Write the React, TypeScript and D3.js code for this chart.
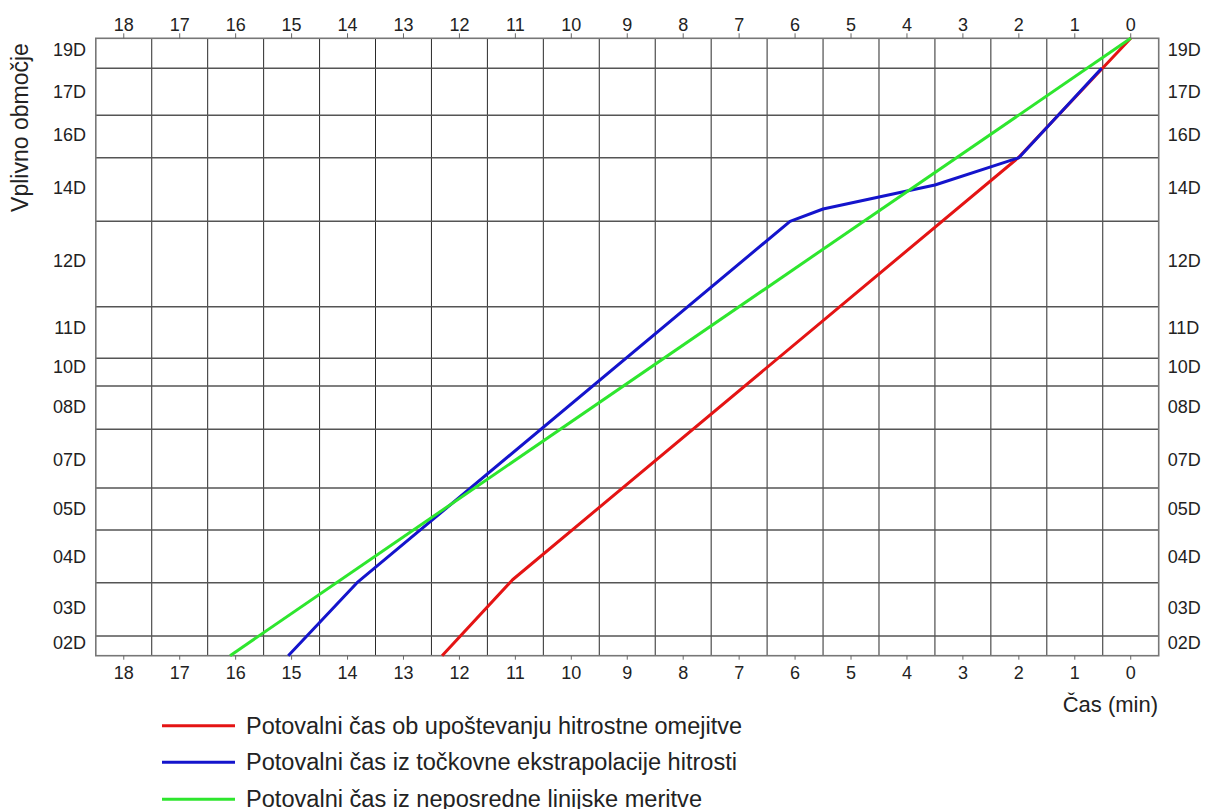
import React from "react";
import * as d3 from "d3";

// Time axis tick labels (minutes)
const timeTicks = [0, 1, 2, 3, 4, 5, 6, 7, 8, 9, 10, 11, 12, 13, 14, 15, 16, 17, 18];
// Grid lines between ticks
const timeGrid = [0.5, 1.5, 2.5, 3.5, 4.5, 5.5, 6.5, 7.5, 8.5, 9.5, 10.5, 11.5, 12.5, 13.5, 14.5, 15.5, 16.5, 17.5];

// Zones (relative position along route, 100 = top, 0 = bottom)
const zoneLabels = ["19D", "17D", "16D", "14D", "12D", "11D", "10D", "08D", "07D", "05D", "04D", "03D", "02D"];
const zoneLabelPos = [98.15, 91.35, 84.34, 75.75, 63.93, 53.08, 46.76, 40.28, 31.7, 23.76, 15.99, 7.77, 2.11];
const zoneBoundaries = [100, 95.14, 87.53, 80.66, 70.36, 56.53, 48.17, 43.68, 36.67, 27.16, 20.36, 11.82, 3.19, 0];

// Series
const redTime = [0, 2.01, 11.05, 12.31];
const redPos = [100, 80.66, 12.3, 0];
const blueTime = [0.52, 2.0, 3.5, 5.5, 6.09, 13.83, 15.06];
const bluePos = [95.14, 80.66, 76.24, 72.35, 70.36, 11.82, 0];
const greenTime = [0, 16.1];
const greenPos = [100, 0];

const seriesNames = [
  "Potovalni čas ob upoštevanju hitrostne omejitve",
  "Potovalni čas iz točkovne ekstrapolacije hitrosti",
  "Potovalni čas iz neposredne linijske meritve",
];
const seriesColors = ["#e41414", "#1414cc", "#2ee62e"];
const legendTextLengths = [496, 491, 456];

const FONT = "'Liberation Sans', Arial, sans-serif";

export default function App() {
  const W = 1205;
  const H = 809;
  const x = d3.scaleLinear().domain([18.5, -0.5]).range([95.8, 1158.7]);
  const y = d3.scaleLinear().domain([0, 100]).range([655.7, 38.3]);
  const [x0, x1] = x.range();
  const [yb, yt] = y.range();

  const line = d3
    .line<[number, number]>()
    .x((d) => x(d[0]))
    .y((d) => y(d[1]));

  const series = [
    redTime.map((t, i) => [t, redPos[i]] as [number, number]),
    blueTime.map((t, i) => [t, bluePos[i]] as [number, number]),
    greenTime.map((t, i) => [t, greenPos[i]] as [number, number]),
  ];

  const legendY = [725.7, 762.3, 799.3];

  return (
    <svg
      width={W}
      height={H}
      style={{ position: "absolute", left: 0, top: 0, background: "#fff" }}
      fontFamily={FONT}
    >
      <rect x={0} y={0} width={W} height={H} fill="#fff" />
      {/* vertical grid */}
      {timeGrid.map((g) => (
        <line key={"vg" + g} x1={x(g)} x2={x(g)} y1={yt} y2={yb} stroke="#2a2a2a" strokeWidth={1} />
      ))}
      {/* horizontal zone boundaries */}
      {zoneBoundaries.slice(1, -1).map((b) => (
        <line key={"hb" + b} x1={x0} x2={x1} y1={y(b)} y2={y(b)} stroke="#555" strokeWidth={1.4} />
      ))}
      {/* border */}
      <rect x={x0} y={yt} width={x1 - x0} height={yb - yt} fill="none" stroke="#777" strokeWidth={1.6} />
      {/* ticks + labels */}
      {timeTicks.map((t) => (
        <g key={"t" + t}>
          <line x1={x(t)} x2={x(t)} y1={yt} y2={yt - 5} stroke="#666" strokeWidth={1} />
          <line x1={x(t)} x2={x(t)} y1={yb} y2={yb + 4} stroke="#666" strokeWidth={1} />
          <text x={x(t)} y={30.7} textAnchor="middle" fontSize={18} fill="#222">
            {t}
          </text>
          <text x={x(t)} y={679} textAnchor="middle" fontSize={18} fill="#222">
            {t}
          </text>
        </g>
      ))}
      {/* zone labels */}
      {zoneLabels.map((l, i) => (
        <g key={"z" + l}>
          <text x={86} y={y(zoneLabelPos[i]) + 6.4} textAnchor="end" fontSize={18} fill="#222">
            {l}
          </text>
          <text x={1167.7} y={y(zoneLabelPos[i]) + 6.4} textAnchor="start" fontSize={18} fill="#222">
            {l}
          </text>
        </g>
      ))}
      {/* series */}
      {series.map((s, i) => (
        <path
          key={"s" + i}
          d={line(s) || ""}
          fill="none"
          stroke={seriesColors[i]}
          strokeWidth={3}
          strokeLinejoin="round"
        />
      ))}
      {/* axis titles */}
      <text
        transform={`translate(28.3,127.5) rotate(-90)`}
        textAnchor="middle"
        fontSize={23}
        fill="#222"
      >
        Vplivno območje
      </text>
      <text x={1158} y={712} textAnchor="end" fontSize={22} fill="#222">
        Čas (min)
      </text>
      {/* legend */}
      {seriesNames.map((n, i) => (
        <g key={"lg" + i}>
          <line x1={162} x2={235} y1={legendY[i]} y2={legendY[i]} stroke={seriesColors[i]} strokeWidth={3} />
          <text
            x={246}
            y={legendY[i] + 8}
            fontSize={23}
            fill="#222"
            textLength={legendTextLengths[i]}
            lengthAdjust="spacingAndGlyphs"
          >
            {n}
          </text>
        </g>
      ))}
    </svg>
  );
}
